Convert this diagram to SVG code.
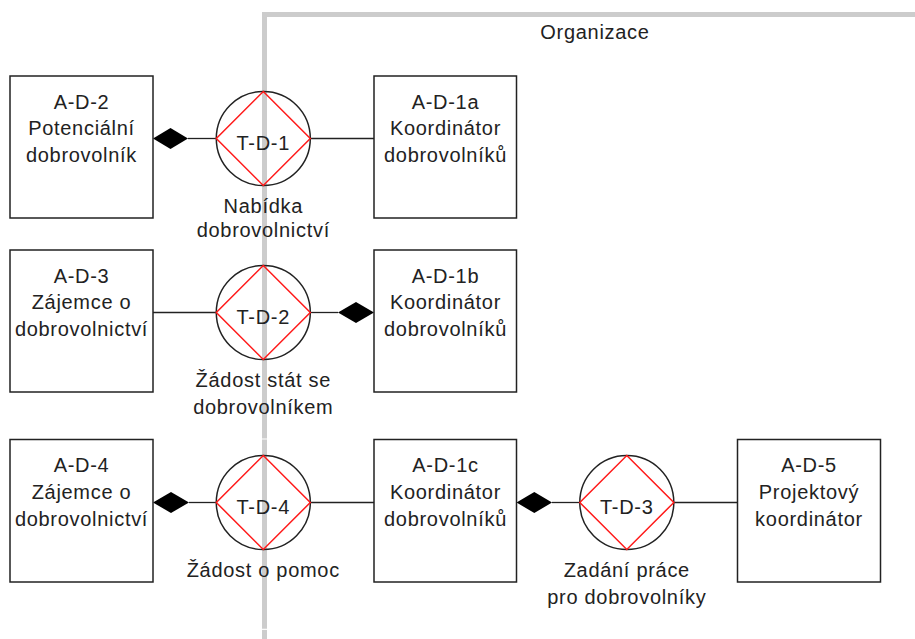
<svg xmlns="http://www.w3.org/2000/svg" width="915" height="639" viewBox="0 0 915 639">
  <style>
    .bg { fill: #ffffff; }
    .boundary { fill: none; stroke: #cccccc; stroke-width: 5; }
    .actor { fill: #ffffff; stroke: #222222; stroke-width: 1.5; }
    .tx-circle { fill: none; stroke: #222222; stroke-width: 1.5; }
    .tx-diamond { fill: none; stroke: #ff1a1a; stroke-width: 1.5; }
    .link { fill: none; stroke: #222222; stroke-width: 1.3; }
    .tip { fill: #000000; }
    text { font-family: "Liberation Sans", Arial, Helvetica, sans-serif; font-size: 20px; letter-spacing: 0.7px; fill: #222222; text-anchor: middle; }
  </style>

  <rect class="bg" x="0" y="0" width="915" height="639"/>

  <!-- organisation boundary -->
  <g id="boundary">
    <path class="boundary" d="M264.5,438.5 V14.5 H915"/>
    <path class="boundary" d="M264.5,439.6 V628.8"/>
    <path class="boundary" d="M264.5,629.9 V639"/>
    <text x="595" y="38.5">Organizace</text>
  </g>

  <!-- connectors -->
  <g id="connectors">
    <line class="link" x1="188" y1="138.5" x2="216" y2="138.5"/>
    <polygon class="tip" points="153,138.5 170.5,128 188,138.5 170.5,149"/>
    <line class="link" x1="310.5" y1="138.5" x2="374" y2="138.5"/>

    <line class="link" x1="153" y1="312.5" x2="216" y2="312.5"/>
    <line class="link" x1="310.5" y1="312.5" x2="338" y2="312.5"/>
    <polygon class="tip" points="338,312.5 356,302 374,312.5 356,323"/>

    <line class="link" x1="189" y1="502.5" x2="216" y2="502.5"/>
    <polygon class="tip" points="153,502.5 171,492 189,502.5 171,513"/>
    <line class="link" x1="310.5" y1="502.5" x2="374" y2="502.5"/>

    <line class="link" x1="552" y1="502.5" x2="579.5" y2="502.5"/>
    <polygon class="tip" points="516.5,502.5 534.3,492 552,502.5 534.3,513"/>
    <line class="link" x1="674" y1="502.5" x2="737.5" y2="502.5"/>
  </g>

  <!-- actors -->
  <g id="A-D-2">
    <rect class="actor" x="10" y="76" width="143" height="142"/>
    <text x="81.5" y="108.5">A-D-2</text>
    <text x="81.5" y="135">Potenciální</text>
    <text x="81.5" y="161.5">dobrovolník</text>
  </g>
  <g id="A-D-1a">
    <rect class="actor" x="374" y="76" width="142.5" height="142"/>
    <text x="445.5" y="108.5">A-D-1a</text>
    <text x="445.5" y="135">Koordinátor</text>
    <text x="445.5" y="161.5">dobrovolníků</text>
  </g>
  <g id="A-D-3">
    <rect class="actor" x="10" y="250" width="143" height="142"/>
    <text x="81.5" y="282.5">A-D-3</text>
    <text x="81.5" y="309">Zájemce o</text>
    <text x="81.5" y="335.5">dobrovolnictví</text>
  </g>
  <g id="A-D-1b">
    <rect class="actor" x="374" y="250" width="142.5" height="142"/>
    <text x="445.5" y="282.5">A-D-1b</text>
    <text x="445.5" y="309">Koordinátor</text>
    <text x="445.5" y="335.5">dobrovolníků</text>
  </g>
  <g id="A-D-4">
    <rect class="actor" x="10" y="439.5" width="143" height="142.5"/>
    <text x="81.5" y="472">A-D-4</text>
    <text x="81.5" y="499">Zájemce o</text>
    <text x="81.5" y="525.5">dobrovolnictví</text>
  </g>
  <g id="A-D-1c">
    <rect class="actor" x="374" y="439.5" width="142.5" height="142.5"/>
    <text x="445.5" y="472">A-D-1c</text>
    <text x="445.5" y="499">Koordinátor</text>
    <text x="445.5" y="525.5">dobrovolníků</text>
  </g>
  <g id="A-D-5">
    <rect class="actor" x="737.5" y="439.5" width="143" height="142.5"/>
    <text x="809" y="472">A-D-5</text>
    <text x="809" y="499">Projektový</text>
    <text x="809" y="525.5">koordinátor</text>
  </g>

  <!-- transactions -->
  <g id="T-D-1">
    <circle class="tx-circle" cx="263.3" cy="138.5" r="47"/>
    <polygon class="tx-diamond" points="263.3,91.5 310.3,138.5 263.3,185.5 216.3,138.5"/>
    <text x="263.3" y="150">T-D-1</text>
    <text x="263.3" y="212.5">Nabídka</text>
    <text x="263.3" y="237">dobrovolnictví</text>
  </g>
  <g id="T-D-2">
    <circle class="tx-circle" cx="263.3" cy="312.5" r="47"/>
    <polygon class="tx-diamond" points="263.3,265.5 310.3,312.5 263.3,359.5 216.3,312.5"/>
    <text x="263.3" y="324">T-D-2</text>
    <text x="263.3" y="386.5">Žádost stát se</text>
    <text x="263.3" y="413.5">dobrovolníkem</text>
  </g>
  <g id="T-D-4">
    <circle class="tx-circle" cx="263.3" cy="502.5" r="47"/>
    <polygon class="tx-diamond" points="263.3,455.5 310.3,502.5 263.3,549.5 216.3,502.5"/>
    <text x="263.3" y="514">T-D-4</text>
    <text x="263.3" y="576.5">Žádost o pomoc</text>
  </g>
  <g id="T-D-3">
    <circle class="tx-circle" cx="626.8" cy="502.5" r="47"/>
    <polygon class="tx-diamond" points="626.8,455.5 673.8,502.5 626.8,549.5 579.8,502.5"/>
    <text x="626.8" y="514">T-D-3</text>
    <text x="626.8" y="576.5">Zadání práce</text>
    <text x="626.8" y="603.5">pro dobrovolníky</text>
  </g>
</svg>
